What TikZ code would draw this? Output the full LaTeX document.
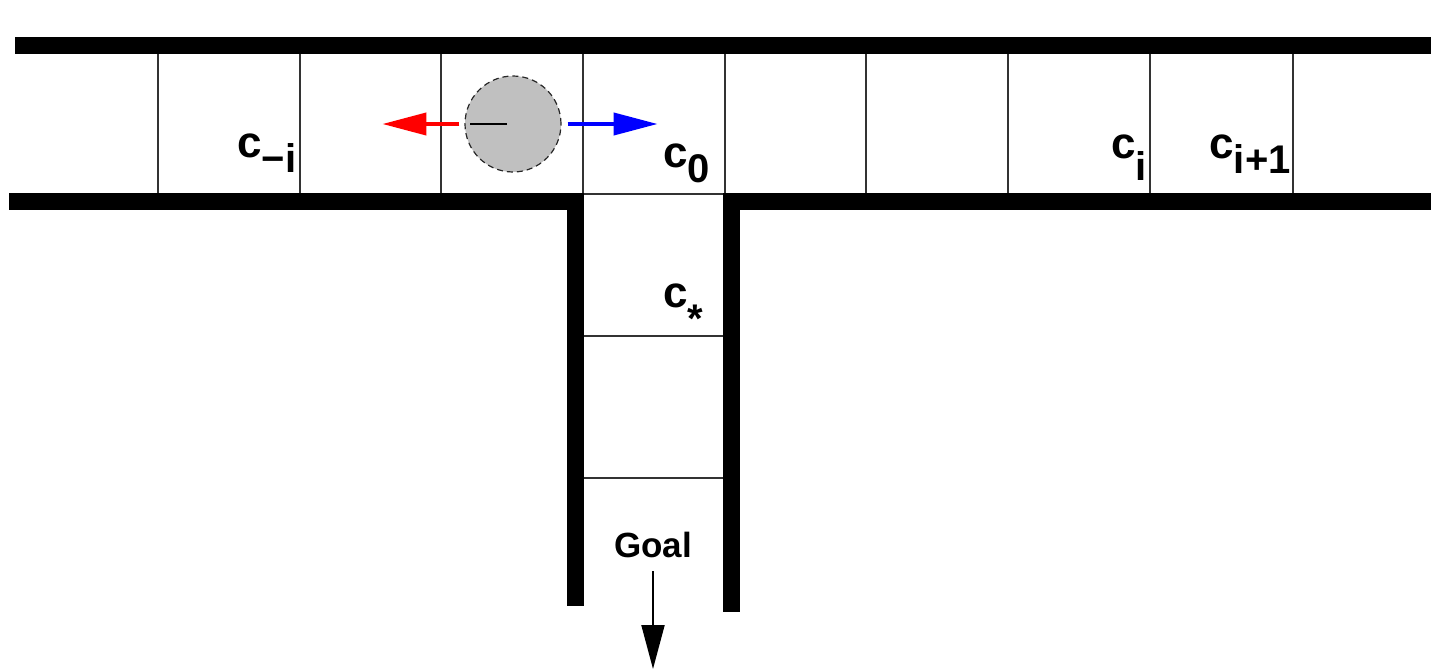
\documentclass[tikz,border=0pt]{standalone}
\usepackage{fontspec}
\setmainfont{Liberation Sans}
\usepackage{tikz}
\usetikzlibrary{arrows.meta,positioning}
\definecolor{wall}{HTML}{000000}
\definecolor{ballgray}{HTML}{C0C0C0}
\definecolor{goleft}{HTML}{FF0000}
\definecolor{goright}{HTML}{0000FF}
\newcommand{\cellname}[2]{c\raisebox{-#2}{\fontsize{20}{20}\selectfont #1}}

\begin{document}
\begin{tikzpicture}[x=0.5pt,y=-0.5pt,font=\fontsize{22}{22}\selectfont\bfseries,
    wallbar/.style={fill=wall,draw=none},
    grid/.style={draw=black!80,line width=0.75pt},
    lbl/.style={inner sep=0pt,anchor=base west},
    move/.style={line width=2pt,-{Triangle[length=22pt,width=11pt]}},
    ball/.style={circle,fill=ballgray,draw=black!85,densely dashed,
                 line width=0.6pt,minimum size=48pt,inner sep=0pt}]
  \useasboundingbox (0,0) rectangle (1431,669);
  \foreach \x in {158,300,441,583,725,866,1008,1150,1293}
    \draw[grid] (\x,54) -- (\x,194);
  \foreach \y in {194,336,478}
    \draw[grid] (583,\y) -- (724,\y);
  \fill[wallbar] (15,37) rectangle (1431,54);
  \fill[wallbar] (9,193) rectangle (583,210);
  \fill[wallbar] (724,193) rectangle (1431,210);
  \fill[wallbar] (567,193) rectangle (584,606);
  \fill[wallbar] (723,193) rectangle (740,612);
  \node[ball] (agent) at (513,124) {};
  \draw[line width=0.75pt] ([xshift=-3pt]agent.center) -- ++(-37,0);
  \draw[move,goleft] ([xshift=-2.5pt]agent.west) -- ++(-77,0);
  \draw[move,goright] ([xshift=3pt]agent.east) -- ++(90,0);
  \node[lbl] (cmi) at (237,157) {\cellname{\char"2212 i}{7.5pt}};
  \node[lbl] (c0) at (663,167) {\cellname{0}{7.5pt}};
  \node[lbl] (ci) at (1111,158) {\cellname{i}{11pt}};
  \node[lbl] (cip) at (1209,158) {\cellname{i+1}{7.5pt}};
  \node[lbl] (cstar) at (663,307) {\cellname{*}{12.5pt}};
  \node[inner sep=0pt,anchor=base,font=\fontsize{17.5}{17.5}\selectfont\bfseries]
    (goal) at (653,557) {Goal};
  \coordinate (exit) at (653,669);
  \draw[line width=1pt,-{Triangle[length=22pt,width=11.5pt]}]
    (653,571) -- (exit);
\end{tikzpicture}
\end{document}
